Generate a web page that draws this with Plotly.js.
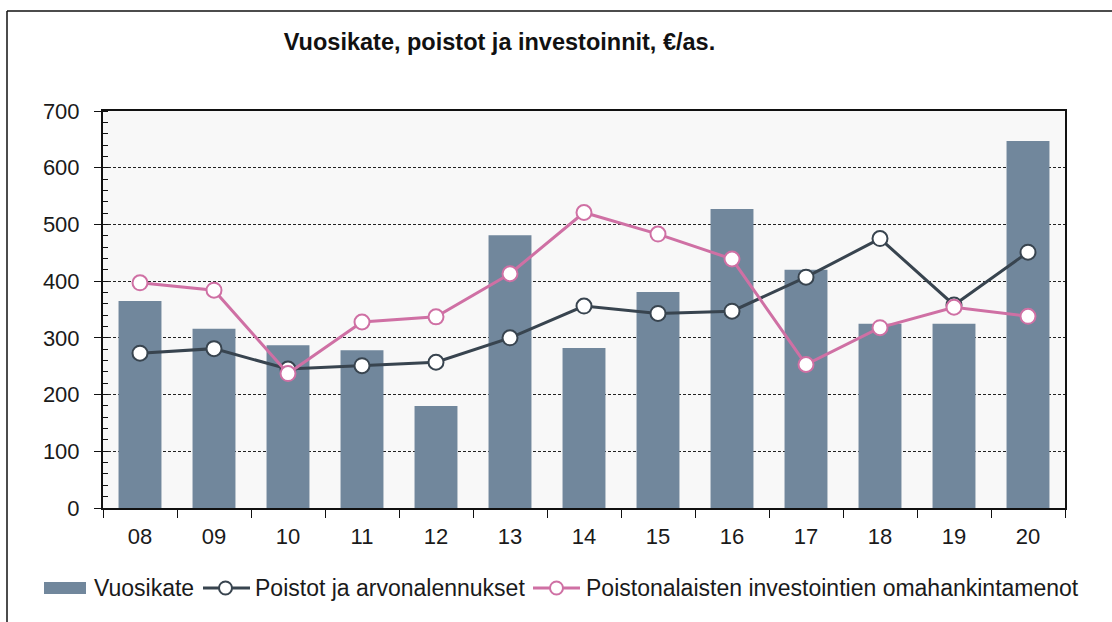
<!DOCTYPE html>
<html>
<head>
<meta charset="utf-8">
<script src="https://cdn.plot.ly/plotly-3.0.1.min.js"></script>
<style>html,body{margin:0;padding:0;background:#fff;}#chart{width:1112px;height:622px;}</style>
</head>
<body>
<div id="chart"></div>
<script>
const years = ["08","09","10","11","12","13","14","15","16","17","18","19","20"];
const vuosikate = [365, 316, 287, 278, 180, 481, 282, 381, 527, 420, 325, 325, 647];
const poistot = [273, 281, 245, 251, 257, 300, 356, 343, 347, 407, 475, 358, 451];
const investoinnit = [397, 384, 237, 328, 337, 413, 521, 483, 439, 253, 318, 354, 338];
const seriesNames = ["Vuosikate", "Poistot ja arvonalennukset", "Poistonalaisten investointien omahankintamenot"];

const font = "Liberation Sans, Arial, sans-serif";
const colBar = "#71879c", colDark = "#38444f", colPink = "#cf70a4";

const traces = [
  {type:"bar", name:seriesNames[0], x:years, y:vuosikate, width:0.58,
   marker:{color:colBar, line:{width:0}}},
  {type:"scatter", mode:"lines+markers", name:seriesNames[1], x:years, y:poistot,
   line:{color:colDark, width:3},
   marker:{symbol:"circle", size:15, color:"#ffffff", line:{color:colDark, width:2}}},
  {type:"scatter", mode:"lines+markers", name:seriesNames[2], x:years, y:investoinnit,
   line:{color:colPink, width:3},
   marker:{symbol:"circle", size:15, color:"#ffffff", line:{color:colPink, width:2}}}
];

// pixel -> paper helpers (plot area: x 103..1065, y 111..508)
const PX = x => (x - 103) / 962;
const PY = y => (508 - y) / 397;
const legY = 588;

const shapes = [
  {type:"line", xref:"paper", yref:"paper", x0:PX(7), x1:PX(1200), y0:PY(11), y1:PY(11),
   line:{color:"#111", width:1.5}, layer:"below"},
  {type:"line", xref:"paper", yref:"paper", x0:PX(7), x1:PX(7), y0:PY(700), y1:PY(11),
   line:{color:"#111", width:1.5}, layer:"below"},
  // legend symbols
  {type:"rect", xref:"paper", yref:"paper", x0:PX(44), x1:PX(86), y0:PY(594), y1:PY(582),
   fillcolor:colBar, line:{width:0}},
  {type:"line", xref:"paper", yref:"paper", x0:PX(203), x1:PX(250), y0:PY(legY), y1:PY(legY),
   line:{color:colDark, width:3}},
  {type:"circle", xref:"paper", yref:"paper", x0:PX(219), x1:PX(232), y0:PY(legY+6.5), y1:PY(legY-6.5),
   fillcolor:"#ffffff", line:{color:colDark, width:2}},
  {type:"line", xref:"paper", yref:"paper", x0:PX(533), x1:PX(580), y0:PY(legY), y1:PY(legY),
   line:{color:colPink, width:3}},
  {type:"circle", xref:"paper", yref:"paper", x0:PX(550), x1:PX(563), y0:PY(legY+6.5), y1:PY(legY-6.5),
   fillcolor:"#ffffff", line:{color:colPink, width:2}}
];

const legTextX = [93, 254, 585];
const annotations = seriesNames.map((n, i) => ({
  text:n, xref:"paper", yref:"paper", x:PX(legTextX[i]), y:PY(legY), xanchor:"left", yanchor:"middle",
  showarrow:false, font:{family:font, size:23, color:"#1a1a1a"}, borderpad:0
}));

const layout = {
  width:1112, height:622,
  margin:{l:103, r:47, t:111, b:114},
  paper_bgcolor:"#ffffff", plot_bgcolor:"#f8f8f8",
  font:{family:font, size:22, color:"#1a1a1a"},
  showlegend:false,
  title:{text:"Vuosikate, poistot ja investoinnit, €/as.", font:{family:font, size:23.5, color:"#111", weight:"bold"},
    x:499.5/1112, xref:"container", y:1-42/622, yref:"container", xanchor:"center", yanchor:"middle"},
  xaxis:{type:"category", range:[-0.5,12.5], showline:true, linecolor:"#111", linewidth:2, mirror:true,
    ticks:"outside", tickson:"boundaries", ticklen:8, tickcolor:"#111", tickwidth:1, ticklabelstandoff:8,
    showgrid:false, zeroline:false, tickfont:{size:22, color:"#1a1a1a"}, fixedrange:true},
  yaxis:{range:[0,700], dtick:100, showline:true, linecolor:"#111", linewidth:2, mirror:true,
    ticks:"outside", ticklen:7, tickcolor:"#111", tickwidth:1, ticklabelstandoff:10,
    minor:{dtick:20, ticks:"inside", ticklen:5, tickcolor:"#111", tickwidth:1, showgrid:false},
    showgrid:true, gridcolor:"#222", gridwidth:1, griddash:"3px,2px", zeroline:false,
    tickfont:{size:22, color:"#1a1a1a"}, fixedrange:true},
  shapes:shapes,
  annotations:annotations
};

Plotly.newPlot("chart", traces, layout, {displayModeBar:false, staticPlot:true});
</script>
</body>
</html>
